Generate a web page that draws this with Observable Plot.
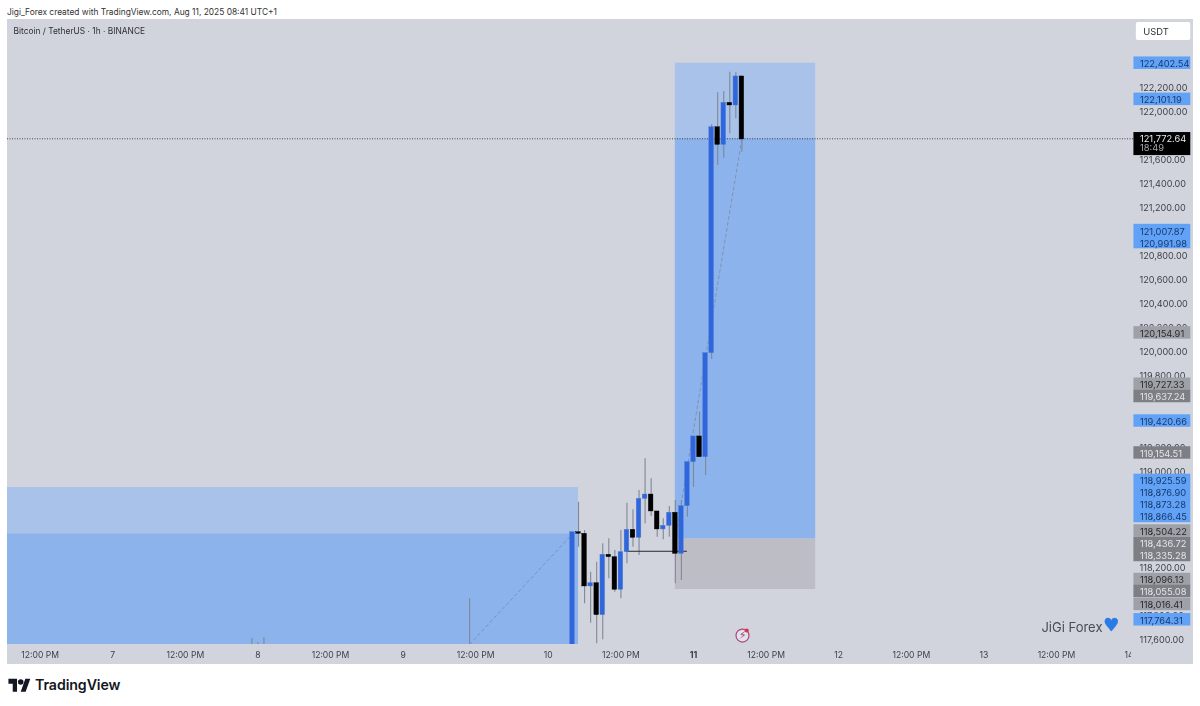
<!DOCTYPE html>
<html><head><meta charset="utf-8">
<script src="https://cdn.jsdelivr.net/npm/d3@7"></script>
<script src="https://cdn.jsdelivr.net/npm/@observablehq/plot@0.6"></script>
<style>
html,body{margin:0;padding:0;background:#fff;overflow:hidden;width:1200px;height:706px;font-family:Inter,"Noto Sans",sans-serif}
#head{position:absolute;left:7px;top:6px;font-size:8.4px;line-height:12px;color:#333;white-space:nowrap}
#chart{position:absolute;left:7px;top:19px;filter:blur(.3px)}
#foot{position:absolute;left:8px;top:676px;display:flex;align-items:center;color:#131722;font-size:14.2px;line-height:18px;font-weight:600;letter-spacing:-.1px}
#foot svg{width:23px;height:16px;margin-right:4px}
</style></head><body>
<div id="head">Jigi_Forex created with TradingView.com, Aug 11, 2025 08:41 UTC+1</div>
<div id="chart"></div>
<div id="foot"><svg viewBox="0 0 36 26"><path fill="#131722" d="M14 24H7V11H0V3h14zM28 24h-8l7.5-21h8z"/><circle cx="20" cy="8" r="4.5" fill="#131722"/></svg><span>TradingView</span></div>
<script>
// Hours relative to Aug 11 2025 00:00 of each hourly candle
const hours  = [-20,-19,-18,-17,-16,-15,-14,-13,-12,-11,-10,-9,-8,-7,-6,-5,-4,-3,-2,-1,0,1,2,3,4,5,6,7,8];
const opens  = [117300,118494,118481,118042,118069,117803,118306,118286,118014,118328,118514,118447,118772,118808,118667,118517,118547,118656,118314,118711,119078,119292,119119,119986,121869,121722,122072,122050,122292];
const closes = [118494,118481,118042,118069,117803,118306,118286,118014,118328,118514,118447,118772,118808,118667,118517,118547,118656,118314,118711,119078,119292,119119,119986,121869,121722,122072,122050,122292,121767];
const highs  = [118494,118744,118508,118161,118244,118397,118439,118342,118508,118736,118681,118842,119106,118939,118667,118606,118708,118758,118758,119078,119292,119494,119986,121889,122156,122167,122328,122322,122292];
const lows   = [117300,118369,117897,117736,117564,117597,118106,117994,117939,118231,118369,118300,118564,118625,118452,118431,118452,118064,118092,118619,118867,119119,118967,119933,121550,121611,121814,121939,121661];
// Tips of wicks from candles whose bodies are below the visible range
const wickHours = [-73,-72,-71,-37];
const wickHighs = [117608,117575,117617,117942];
const wickFloor = 117300;

const tickHours  = [-108,-96,-84,-72,-60,-48,-36,-24,-12,12,24,36,48,60,72];
const tickLabels = ["12:00 PM","7","12:00 PM","8","12:00 PM","9","12:00 PM","10","12:00 PM","12:00 PM","12","12:00 PM","13","12:00 PM","14"];
const boldTick = {hour:0,label:"11"};
const priceTicks = [122200,122000,121800,121600,121400,121200,120800,120600,120400,120200,120000,119800,119200,119000,118200,117800,117600];

const last = 121772.64;
// Tags on the price axis: text, price the tag sits at, kind
const tagText = ["122,402.54","122,101.19","121,007.87","120,991.98","120,154.91","119,727.33","119,637.24","119,420.66","119,154.51","118,925.59","118,876.90","118,873.28","118,866.45","118,504.22","118,436.72","118,335.28","118,096.13","118,055.08","118,016.41","117,764.31"];
const tagAt   = [122402.54,122101.19,121007.87,120908,120154.91,119727.33,119625,119420.66,119154.51,118925.59,118825,118725,118625,118504.22,118400,118300,118100,118000,117892,117764.31];
const tagKind = ["b","b","b","b","g","g","d","b","d","b","b","b","b","g","d","d","g","d","g","b"];
const tagFill = {b:"#62a2f6",g:"#9fa1a8",d:"#7d7f85"};
const tagInk  = {b:"#153a6e",g:"#2a2a2e",d:"#e4e5ea"};

// Long/short position tools: [from hour, to hour, top, entry, bottom]
const boxRight = [-3,20.2,122402.54,118436.72,118016.41];
const boxLeft  = [-113.4,-19,118866.45,118480,117300];

const h = v => new Date(Date.UTC(2025,7,11) + v*3600e3);
const T0 = h(-113.39), T1 = h(72.73), TAG0 = h(72.8), TAG1 = h(82.2);
const YMAX = 122200 + 68/0.12, YMIN = 122200 - 557/0.12;

const candles = hours.map((t,i)=>({t:h(t),o:opens[i],c:closes[i],hi:highs[i],lo:lows[i],up:closes[i]>=opens[i]}));
const wicks = wickHours.map((t,i)=>({t:h(t),hi:wickHighs[i]}));
const tags = tagText.map((s,i)=>({s,y:tagAt[i],k:tagKind[i]}));
const rects = [
 {x1:boxRight[0],x2:boxRight[1],y1:last,y2:boxRight[2],f:"#a9c2e9"},
 {x1:boxRight[0],x2:boxRight[1],y1:boxRight[3],y2:last,f:"#8cb3eb"},
 {x1:boxRight[0],x2:boxRight[1],y1:boxRight[4],y2:boxRight[3],f:"#bcbdc5"},
 {x1:boxLeft[0],x2:boxLeft[1],y1:boxLeft[3],y2:boxLeft[2],f:"#a9c2e9"},
 {x1:boxLeft[0],x2:boxLeft[1],y1:boxLeft[4],y2:boxLeft[3],f:"#8cb3eb"}
].map(d=>({...d,x1:h(d.x1),x2:h(d.x2)}));

const clip = {clip:true};
const font = "Inter, 'Noto Sans', sans-serif";
const tickOf = d => tickLabels[tickHours.indexOf((d-h(0))/3600e3)];
const chart = Plot.plot({
  width:1186, height:645, marginLeft:0, marginRight:60, marginTop:0, marginBottom:20,
  style:{background:"#d1d4dc", fontFamily:font, fontSize:"9.2px", overflow:"hidden"},
  x:{type:"utc", domain:[T0,T1], axis:null},
  y:{domain:[YMIN,YMAX], axis:null},
  marks:[
    Plot.rect(rects,{x1:"x1",x2:"x2",y1:"y1",y2:"y2",fill:"f",...clip}),
    Plot.line([[h(-37),117560],[h(-20),118480]],{x:"0",y:"1",stroke:"#7f93b3",strokeWidth:1,strokeDasharray:"3 3",...clip}),
    Plot.line([[h(-3),118436.72],[h(8),last]],{x:"0",y:"1",stroke:"#7f93b3",strokeWidth:1,strokeDasharray:"3 3",...clip}),
    Plot.ruleY([last],{x1:T0,x2:T1,stroke:"#222",strokeWidth:.8,strokeDasharray:"1 1.5"}),
    Plot.ruleX(wicks,{x:"t",y1:wickFloor,y2:"hi",stroke:"#7f8896",strokeWidth:1.1,...clip}),
    Plot.ruleX(candles,{x:"t",y1:"lo",y2:"hi",stroke:"#7f8896",strokeWidth:1.1,...clip}),
    Plot.ruleY([118335.28],{x1:h(-11),x2:h(-1),stroke:"#2a2a2e",strokeWidth:1}),
    Plot.rect(candles,{x1:"t",x2:"t",y1:"o",y2:"c",insetLeft:-2.3,insetRight:-2.3,fill:d=>d.up?"#2f66dc":"#000",stroke:d=>d.up?"#4a78d8":"#000",strokeWidth:.4,...clip}),
    Plot.axisX(tickHours.map(h),{anchor:"bottom",tickSize:0,tickPadding:7,label:null,fontSize:8.6,fontVariant:"normal",fill:"#3d3f46",tickFormat:tickOf}),
    Plot.text([boldTick.label],{x:h(boldTick.hour),frameAnchor:"bottom",lineAnchor:"top",dy:7,fontSize:8.8,fontWeight:700,fill:"#3d3f46"}),
    Plot.rect([0],{x1:h(72.4),x2:TAG1,y1:YMIN,y2:YMIN,insetBottom:-20,insetRight:-20,fill:"#d1d4dc"}),
    Plot.axisY(priceTicks,{anchor:"right",tickSize:0,tickPadding:6,label:null,fontSize:9.1,fontVariant:"normal",fill:"#3d3f46",dy:1,tickFormat:d3.format(",.2f")}),
    Plot.rect(tags,{x1:TAG0,x2:TAG1,y1:d=>d.y-52,y2:d=>d.y+52,fill:d=>tagFill[d.k]}),
    Plot.text(tags,{x:TAG0,y:"y",text:"s",dx:6,dy:1,textAnchor:"start",fill:d=>tagInk[d.k],fontSize:9.3}),
    Plot.rect([0],{x1:TAG0,x2:TAG1,y1:[121772.64-140],y2:[121772.64+52],fill:"#000"}),
    Plot.text(["121,772.64"],{x:TAG0,y:last,dx:6,textAnchor:"start",fill:"#e8e8ee",fontSize:9.3}),
    Plot.text(["18:49"],{x:TAG0,y:last-80,dx:6,textAnchor:"start",fill:"#a6a8ae",fontSize:9.3}),
    Plot.text(["Bitcoin / TetherUS · 1h · BINANCE"],{frameAnchor:"top-left",dx:6,dy:9,textAnchor:"start",fill:"#2f3036",fontSize:8.4}),
    Plot.rect([0],{x1:h(73.2),x2:TAG1,y1:YMAX-3*8.33,y2:YMAX-21*8.33,fill:"#fff",rx:2}),
    Plot.text(["USDT"],{x:h(73.2),y:YMAX-12.5*8.33,dx:7,textAnchor:"start",fill:"#2f3036",fontSize:9.4}),
    Plot.text(["JiGi Forex"],{frameAnchor:"bottom-right",dx:-31,dy:-13,fill:"#4a4c54",fontSize:13,textAnchor:"end"}),
    Plot.text(["\u2665"],{frameAnchor:"bottom-right",dx:-14,dy:-14,fill:"#2a7be4",stroke:"#2a7be4",strokeWidth:.5,fontSize:18,textAnchor:"end",fontFamily:"DejaVu Sans"}),
    Plot.dot([0],{x:h(8.1),y:117633,r:6.5,fill:"#e3e1ea",stroke:"#a9467c",strokeWidth:1.2}),
    Plot.text(["\u26A1"],{x:h(8.1),y:117633,fill:"#a9467c",fontSize:11,fontFamily:"DejaVu Sans"}),
    Plot.dot([0],{x:h(8.8),y:117675,r:2,fill:"#e0304a"})
  ]
});
document.getElementById("chart").appendChild(chart);
</script>
</body></html>
